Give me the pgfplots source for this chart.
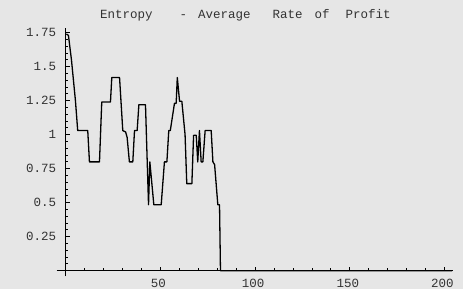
\documentclass[border=0pt]{standalone}
\usepackage{pgfplots}
\pgfplotsset{compat=1.18}
\usepackage{fontspec}
\setmainfont{Liberation Mono}
\definecolor{bg}{HTML}{E6E6E6}
\definecolor{txt}{HTML}{333333}
\begin{document}
\begin{tikzpicture}
\fill[bg] (0,0) rectangle (463pt,289pt);
\begin{axis}[
  at={(56.5pt,12.6pt)}, anchor=south west,
  scale only axis, width=396.1pt, height=248.8pt,
  xmin=-4.9, xmax=204.3, ymin=-0.042, ymax=1.787,
  axis lines=middle,
  axis line style={-, line width=0.9pt},
  clip=false,
  xtick={50,100,150,200},
  ytick={0.25,0.5,0.75,1,1.25,1.5,1.75},
  yticklabels={0.25,0.5,0.75,1,1.25,1.5,1.75},
  minor xtick={10,20,30,40,60,70,80,90,110,120,130,140,160,170,180,190},
  minor ytick={0.05,0.1,0.15,0.2,0.3,0.35,0.4,0.45,0.55,0.6,0.65,0.7,0.8,0.85,0.9,0.95,1.05,1.1,1.15,1.2,1.3,1.35,1.4,1.45,1.55,1.6,1.65,1.7},
  tick align=inside,
  major tick length=4pt, minor tick length=2.5pt,
  tick style={black, line width=0.8pt},
  every tick label/.append style={font=\fontsize{12.5}{13}\selectfont, text=txt},
  /pgf/number format/assume math mode=true,
  xticklabel style={yshift=-5pt, xshift=-2pt},
  yticklabel style={xshift=-6pt},
]
\addplot[black, line width=1.3pt, line join=round] coordinates {
(0.3,1.74)(1.4,1.73)(3,1.55)(5.1,1.25)(6.3,1.03)(11.6,1.03)(12.5,0.80)(17.8,0.80)
(19,1.24)(23.6,1.24)(24.3,1.42)(28.4,1.42)(30.1,1.03)(31.6,1.02)(32.4,0.98)(33.6,0.80)
(35.4,0.80)(36.3,1.03)(37.7,1.03)(38.6,1.22)(42.1,1.22)(43.7,0.485)(44.4,0.80)(46.5,0.485)
(50.4,0.485)(52.1,0.80)(53.4,0.80)(54.4,1.03)(55.2,1.03)(57.4,1.23)(58.3,1.23)(58.9,1.42)
(60.1,1.245)(61.3,1.245)(63.0,1.0)(63.9,0.64)(66.6,0.64)(67.5,0.995)(68.9,0.995)(69.7,0.80)
(70.6,1.03)(71.5,0.80)(72.4,0.80)(73.6,1.03)(76.8,1.03)(77.7,0.80)(78.6,0.78)(80.3,0.485)
(81.2,0.485)(81.7,0)(204,0)
};
\end{axis}
\node[anchor=base west, text=txt, font=\fontsize{12.5}{13}\selectfont, inner sep=0pt] at (100pt,270pt)
  {Entropy\hspace{27pt}-\hspace{11pt}Average\hspace{22pt}Rate\hspace{12pt}of\hspace{16pt}Profit};
\pgfresetboundingbox
\path (0,0) rectangle (463pt,289pt);
\end{tikzpicture}
\end{document}
